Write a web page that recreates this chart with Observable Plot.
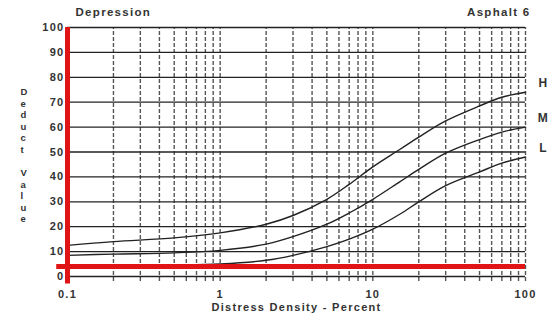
<!DOCTYPE html>
<html>
<head>
<meta charset="utf-8">
<script src="https://cdn.jsdelivr.net/npm/d3@7"></script>
<script src="https://cdn.jsdelivr.net/npm/@observablehq/plot@0.6"></script>
<style>
  html, body { margin: 0; padding: 0; background: #fff; }
</style>
</head>
<body>
<div id="chart"></div>
<script>
// ---- data ----
const densities = [0.1, 0.2, 0.5, 1, 2, 3, 5, 7, 10, 15, 20, 30, 50, 70, 100];
const valuesH = [12.5, 14, 15.5, 17.5, 21, 24.5, 31, 37, 44, 51, 56, 62.5, 68.5, 72, 74];
const valuesM = [8.5, 9, 9.5, 10.5, 13, 16, 21, 25.5, 31, 38, 43, 49.5, 55, 58, 60];
const valuesL = [4, 4.2, 4.5, 5, 6.5, 8.5, 12, 15, 19, 25, 30, 36.5, 42, 45.5, 48];
const severityNames = ["H", "M", "L"];
const xTickValues = [0.1, 1, 10, 100];
const xTickLabels = ["0.1", "1", "10", "100"];
const yTickValues = [0, 10, 20, 30, 40, 50, 60, 70, 80, 90, 100];
const verticalGrid = [0.2,0.3,0.4,0.5,0.6,0.7,0.8,0.9,1,2,3,4,5,6,7,8,9,10,20,30,40,50,60,70,80,90,100];
const redLevel = 4;
const titleLeft = "Depression";
const titleRight = "Asphalt 6";
const xLabel = "Distress Density - Percent";
const yLabel = "Deduct Value";

const seriesValues = [valuesH, valuesM, valuesL];
const curveRows = seriesValues.flatMap((vals, i) =>
  vals.map((v, j) => ({x: densities[j], y: v, s: severityNames[i]})));
const endRows = seriesValues.map((vals, i) => ({x: densities[densities.length - 1], y: vals[vals.length - 1], s: severityNames[i]}));

const ink = "#333";
const red = "#e01414";

const chart = Plot.plot({
  width: 550,
  height: 320,
  marginTop: 27,
  marginBottom: 44,
  marginLeft: 67,
  marginRight: 25,
  style: {fontFamily: "'Liberation Sans', Arial, sans-serif", fontSize: "11px", fontWeight: "bold", color: ink, background: "#fff", letterSpacing: "1.3px"},
  x: {type: "log", domain: [0.1, 100], ticks: xTickValues, tickFormat: (d) => xTickLabels[xTickValues.indexOf(d)], tickSize: 0, tickPadding: 14, label: null},
  y: {domain: [0, 100], ticks: yTickValues, tickSize: 0, tickPadding: 3, label: null},
  marks: [
    // vertical dashed grid
    Plot.ruleX(verticalGrid, {y1: -2, y2: 100, stroke: "#555", strokeWidth: 1.4, strokeDasharray: "4,2"}),
    // horizontal grid
    Plot.ruleY(yTickValues, {x1: 0.1, x2: 100, stroke: "#222", strokeWidth: 1.3}),
    // curves
    Plot.line(curveRows, {x: "x", y: "y", z: "s", curve: "catmull-rom", stroke: "#222", strokeWidth: 1.4}),
    // series labels
    Plot.text(endRows, {x: "x", y: "y", text: "s", dx: 18, dy: -9, fontSize: 12, fill: ink}),
    // red annotation lines
    Plot.ruleY([redLevel], {x1: 0.085, x2: 100, stroke: red, strokeWidth: 5}),
    Plot.ruleX([0.1], {y1: -3, y2: 100, stroke: red, strokeWidth: 5}),
    // titles
    Plot.text([titleLeft], {frameAnchor: "top-left", dx: 8, dy: -20, fontSize: 11.5, fill: ink, textAnchor: "start"}),
    Plot.text([titleRight], {frameAnchor: "top-right", dx: 5, dy: -20, fontSize: 11.5, fill: ink, textAnchor: "end"}),
    // axis labels
    Plot.text([xLabel], {frameAnchor: "bottom", dy: 34, fontSize: 11, fill: ink}),
    Plot.text([yLabel.split("").map(c => c === " " ? "" : c).join("\n")], {frameAnchor: "left", dx: -47, dy: 3, fontSize: 9.5, lineHeight: 1.22, fill: ink})
  ]
});
document.getElementById("chart").append(chart);
</script>
</body>
</html>
